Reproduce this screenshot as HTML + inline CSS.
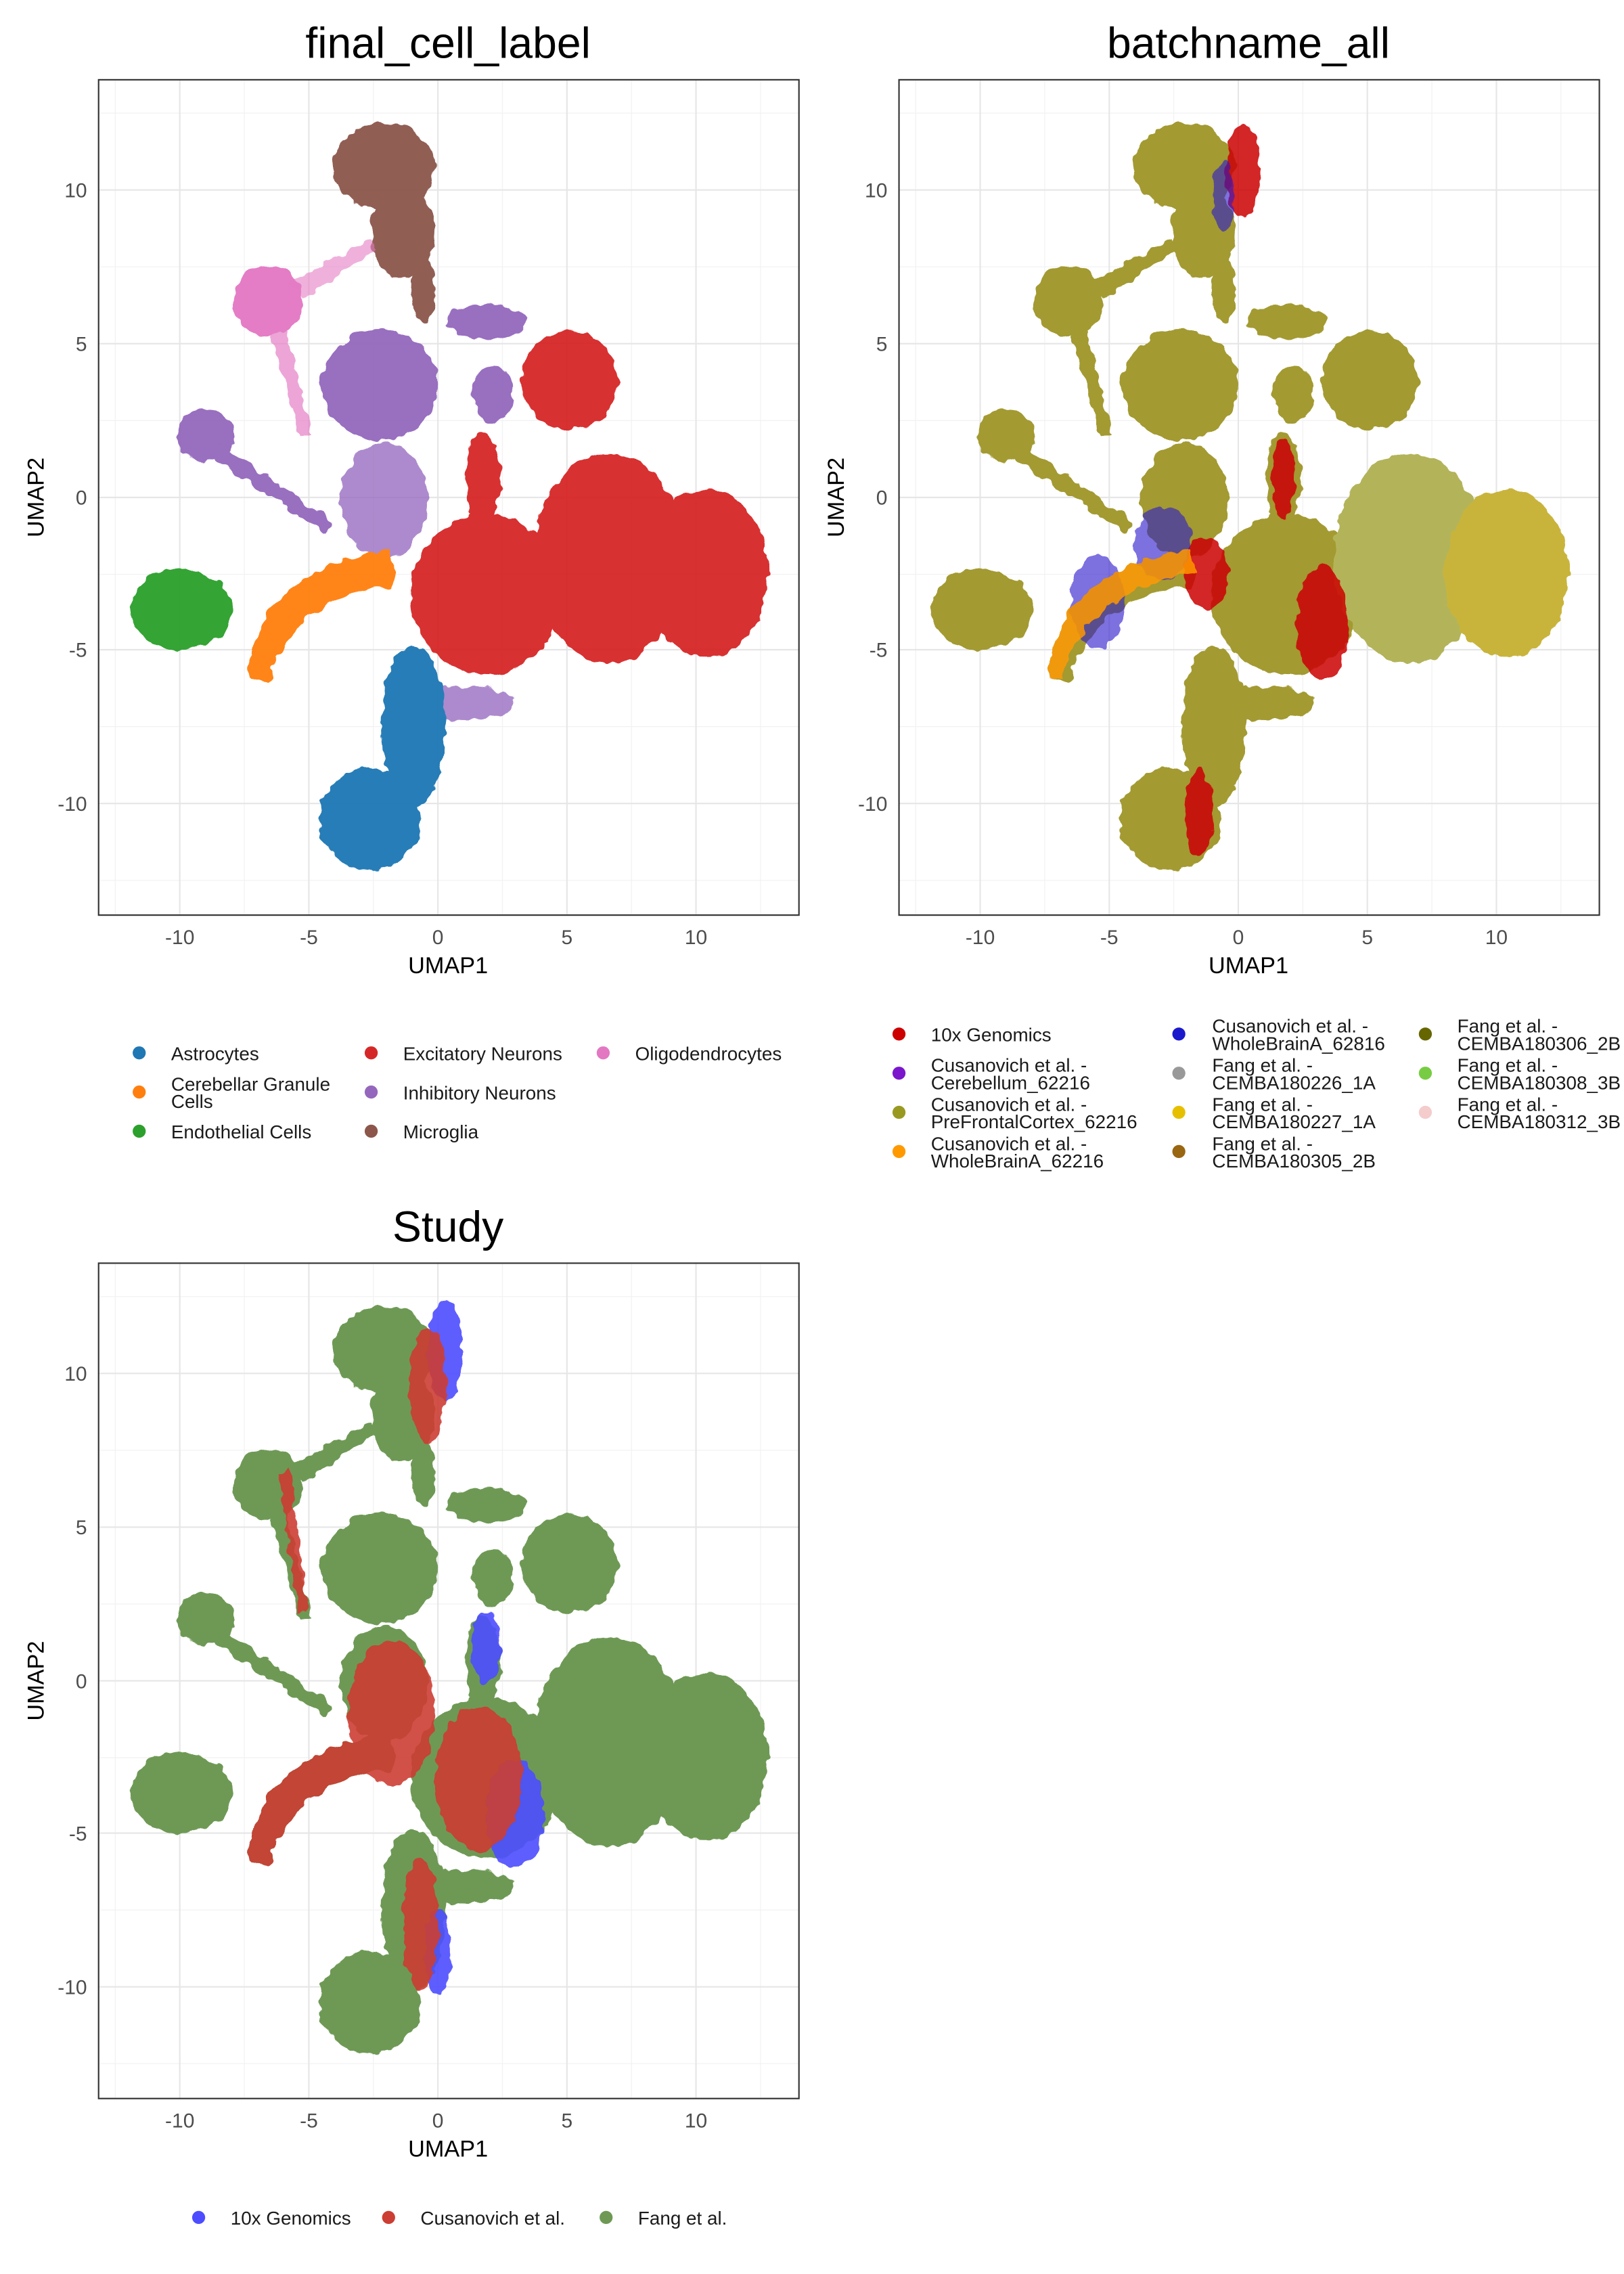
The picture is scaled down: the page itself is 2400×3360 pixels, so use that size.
<!DOCTYPE html>
<html><head><meta charset="utf-8"><style>html,body{margin:0;padding:0;background:#fff}svg{display:block}text{font-family:"Liberation Sans",sans-serif}</style></head>
<body>
<svg width="2400" height="3360" viewBox="0 0 1120 1568" xmlns="http://www.w3.org/2000/svg">
<defs>
<filter id="fz" x="-10%" y="-10%" width="120%" height="120%">
<feTurbulence type="fractalNoise" baseFrequency="0.12" numOctaves="2" seed="3" result="n"/>
<feDisplacementMap in="SourceGraphic" in2="n" scale="7" xChannelSelector="R" yChannelSelector="G"/>
</filter>
<g id="grid">
<rect x="68" y="55" width="483" height="576" fill="#fff"/>
<g stroke="#f2f2f2" stroke-width="0.6">
<line x1="79.5" y1="55" x2="79.5" y2="631"/><line x1="168.5" y1="55" x2="168.5" y2="631"/><line x1="257.5" y1="55" x2="257.5" y2="631"/><line x1="346.5" y1="55" x2="346.5" y2="631"/><line x1="435.5" y1="55" x2="435.5" y2="631"/><line x1="524.5" y1="55" x2="524.5" y2="631"/>
<line x1="68" y1="78" x2="551" y2="78"/><line x1="68" y1="184" x2="551" y2="184"/><line x1="68" y1="290" x2="551" y2="290"/><line x1="68" y1="396" x2="551" y2="396"/><line x1="68" y1="501" x2="551" y2="501"/><line x1="68" y1="607" x2="551" y2="607"/>
</g>
<g stroke="#e6e6e6" stroke-width="1">
<line x1="124" y1="55" x2="124" y2="631"/><line x1="213" y1="55" x2="213" y2="631"/><line x1="302" y1="55" x2="302" y2="631"/><line x1="391" y1="55" x2="391" y2="631"/><line x1="480" y1="55" x2="480" y2="631"/>
<line x1="68" y1="131" x2="551" y2="131"/><line x1="68" y1="237" x2="551" y2="237"/><line x1="68" y1="343" x2="551" y2="343"/><line x1="68" y1="448" x2="551" y2="448"/><line x1="68" y1="554" x2="551" y2="554"/>
</g>
<g font-size="14" fill="#4d4d4d" text-anchor="middle">
<text x="124" y="651">-10</text><text x="213" y="651">-5</text><text x="302" y="651">0</text><text x="391" y="651">5</text><text x="480" y="651">10</text>
</g>
<g font-size="14" fill="#4d4d4d" text-anchor="end">
<text x="60" y="136">10</text><text x="60" y="242">5</text><text x="60" y="348">0</text><text x="60" y="453">-5</text><text x="60" y="559">-10</text>
</g>
<text x="309" y="671" font-size="16" text-anchor="middle">UMAP1</text>
<text x="30" y="343" font-size="16" text-anchor="middle" transform="rotate(-90 30 343)">UMAP2</text>
</g>
<g id="shape">
<ellipse cx="265" cy="115" rx="35" ry="30"/>
<ellipse cx="278" cy="160" rx="22" ry="32"/>
<ellipse cx="292" cy="200" rx="8" ry="22"/>
<ellipse cx="185" cy="208" rx="24" ry="24"/>
<path d="M200 195 L255 165 L260 172 L210 205 Z"/>
<path d="M195 220 L215 300 L207 302 L185 225 Z"/>
<ellipse cx="262" cy="265" rx="40" ry="38"/>
<ellipse cx="142" cy="300" rx="20" ry="18"/>
<path d="M150 305 L230 360 L225 368 L145 315 Z"/>
<ellipse cx="340" cy="272" rx="14" ry="20"/>
<ellipse cx="335" cy="222" rx="28" ry="12"/>
<ellipse cx="265" cy="345" rx="30" ry="40"/>
<ellipse cx="393" cy="262" rx="33" ry="34"/>
<ellipse cx="420" cy="385" rx="52" ry="72"/>
<ellipse cx="487" cy="395" rx="43" ry="58"/>
<ellipse cx="335" cy="410" rx="52" ry="55"/>
<ellipse cx="333" cy="330" rx="12" ry="32"/>
<ellipse cx="255" cy="565" rx="35" ry="35"/>
<ellipse cx="285" cy="500" rx="22" ry="55"/>
<ellipse cx="320" cy="485" rx="35" ry="12"/>
<path d="M172 470 C170 420 210 385 270 380 L272 405 C230 405 195 430 185 472 Z"/>
<ellipse cx="125" cy="420" rx="35" ry="28"/>
</g>
</defs>

<!-- Panel 1 -->
<g>
<use href="#grid"/>
<g opacity="0.95" filter="url(#fz)">
<ellipse cx="265" cy="115" rx="35" ry="30" fill="#8c564b"/><ellipse cx="278" cy="160" rx="22" ry="32" fill="#8c564b"/><ellipse cx="292" cy="200" rx="8" ry="22" fill="#8c564b"/>
<ellipse cx="185" cy="208" rx="24" ry="24" fill="#e377c2"/><path d="M200 195 L255 165 L260 172 L210 205 Z" fill="#e377c2" opacity="0.6"/><path d="M195 220 L215 300 L207 302 L185 225 Z" fill="#e377c2" opacity="0.7"/>
<g fill="#9467bd"><ellipse cx="262" cy="265" rx="40" ry="38"/><ellipse cx="142" cy="300" rx="20" ry="18"/><path d="M150 305 L230 360 L225 368 L145 315 Z"/><ellipse cx="340" cy="272" rx="14" ry="20"/><ellipse cx="335" cy="222" rx="28" ry="12"/><ellipse cx="265" cy="345" rx="30" ry="40" opacity="0.8"/><ellipse cx="320" cy="485" rx="35" ry="12" opacity="0.8"/></g>
<g fill="#d62728"><ellipse cx="393" cy="262" rx="33" ry="34"/><ellipse cx="420" cy="385" rx="52" ry="72"/><ellipse cx="487" cy="395" rx="43" ry="58"/><ellipse cx="335" cy="410" rx="52" ry="55"/><ellipse cx="333" cy="330" rx="12" ry="32"/></g>
<g fill="#1f77b4"><ellipse cx="255" cy="565" rx="35" ry="35"/><ellipse cx="285" cy="500" rx="22" ry="55"/></g>
<path d="M172 470 C170 420 210 385 270 380 L272 405 C230 405 195 430 185 472 Z" fill="#ff7f0e"/>
<ellipse cx="125" cy="420" rx="35" ry="28" fill="#2ca02c"/>
</g>
<rect x="68" y="55" width="483" height="576" fill="none" stroke="#333" stroke-width="1"/>
<text x="309" y="40" font-size="30" text-anchor="middle">final_cell_label</text>
<g font-size="13" fill="#1a1a1a">
<circle cx="96" cy="726" r="4.5" fill="#1f77b4"/><text x="118" y="731">Astrocytes</text>
<circle cx="96" cy="753" r="4.5" fill="#ff7f0e"/><text x="118" y="752">Cerebellar Granule</text><text x="118" y="764">Cells</text>
<circle cx="96" cy="780" r="4.5" fill="#2ca02c"/><text x="118" y="785">Endothelial Cells</text>
<circle cx="256" cy="726" r="4.5" fill="#d62728"/><text x="278" y="731">Excitatory Neurons</text>
<circle cx="256" cy="753" r="4.5" fill="#9467bd"/><text x="278" y="758">Inhibitory Neurons</text>
<circle cx="256" cy="780" r="4.5" fill="#8c564b"/><text x="278" y="785">Microglia</text>
<circle cx="416" cy="726" r="4.5" fill="#e377c2"/><text x="438" y="731">Oligodendrocytes</text>
</g>
</g>

<!-- Panel 2 -->
<g transform="translate(552 0)">
<use href="#grid"/>
<g filter="url(#fz)">
<use href="#shape" fill="#a39a30"/>
<ellipse cx="420" cy="385" rx="52" ry="72" fill="#b3b45a"/>
<ellipse cx="487" cy="395" rx="43" ry="58" fill="#c9b43a"/>
<g fill="#cc0000" opacity="0.85">
<ellipse cx="305" cy="118" rx="12" ry="32"/><ellipse cx="360" cy="430" rx="18" ry="40"/><ellipse cx="333" cy="330" rx="8" ry="28"/><ellipse cx="275" cy="560" rx="10" ry="30"/><ellipse cx="280" cy="395" rx="15" ry="25"/>
</g>
<g fill="#2a1acc" opacity="0.6"><ellipse cx="292" cy="135" rx="7" ry="25"/><ellipse cx="205" cy="415" rx="18" ry="32"/><ellipse cx="250" cy="375" rx="20" ry="25"/></g>
<path d="M172 470 C170 420 210 385 270 380 L272 395 C230 400 190 425 180 470 Z" fill="#ff9900" opacity="0.85"/>
</g>
<rect x="68" y="55" width="483" height="576" fill="none" stroke="#333" stroke-width="1"/>
<text x="309" y="40" font-size="30" text-anchor="middle">batchname_all</text>
</g>
<g font-size="13" fill="#1a1a1a">
<circle cx="620" cy="713" r="4.5" fill="#cc0000"/><text x="642" y="718">10x Genomics</text>
<circle cx="620" cy="740" r="4.5" fill="#7b16cc"/><text x="642" y="739">Cusanovich et al. -</text><text x="642" y="751">Cerebellum_62216</text>
<circle cx="620" cy="767" r="4.5" fill="#999922"/><text x="642" y="766">Cusanovich et al. -</text><text x="642" y="778">PreFrontalCortex_62216</text>
<circle cx="620" cy="794" r="4.5" fill="#ff9900"/><text x="642" y="793">Cusanovich et al. -</text><text x="642" y="805">WholeBrainA_62216</text>
<circle cx="813" cy="713" r="4.5" fill="#1a1acc"/><text x="836" y="712">Cusanovich et al. -</text><text x="836" y="724">WholeBrainA_62816</text>
<circle cx="813" cy="740" r="4.5" fill="#999999"/><text x="836" y="739">Fang et al. -</text><text x="836" y="751">CEMBA180226_1A</text>
<circle cx="813" cy="767" r="4.5" fill="#e6c000"/><text x="836" y="766">Fang et al. -</text><text x="836" y="778">CEMBA180227_1A</text>
<circle cx="813" cy="794" r="4.5" fill="#996611"/><text x="836" y="793">Fang et al. -</text><text x="836" y="805">CEMBA180305_2B</text>
<circle cx="983" cy="713" r="4.5" fill="#666600"/><text x="1005" y="712">Fang et al. -</text><text x="1005" y="724">CEMBA180306_2B</text>
<circle cx="983" cy="740" r="4.5" fill="#77cc44"/><text x="1005" y="739">Fang et al. -</text><text x="1005" y="751">CEMBA180308_3B</text>
<circle cx="983" cy="767" r="4.5" fill="#f4cccc"/><text x="1005" y="766">Fang et al. -</text><text x="1005" y="778">CEMBA180312_3B</text>
</g>

<!-- Panel 3 -->
<g transform="translate(0 816)">
<use href="#grid"/>
<g filter="url(#fz)">
<use href="#shape" fill="#6e9955"/>
<g fill="#4d4dff" opacity="0.9">
<ellipse cx="307" cy="115" rx="12" ry="35"/><ellipse cx="355" cy="435" rx="20" ry="38"/><ellipse cx="335" cy="320" rx="10" ry="25"/><ellipse cx="302" cy="530" rx="9" ry="30"/>
</g>
<g fill="#cc3d33" opacity="0.9">
<ellipse cx="295" cy="140" rx="13" ry="40"/>
<path d="M172 470 C170 420 210 385 270 380 L272 405 C230 405 195 430 185 472 Z"/>
<ellipse cx="270" cy="365" rx="30" ry="50"/><ellipse cx="330" cy="410" rx="30" ry="50"/><ellipse cx="290" cy="510" rx="12" ry="45"/>
<path d="M200 195 L212 295 L206 296 L192 200 Z"/>
</g>
</g>
<rect x="68" y="55" width="483" height="576" fill="none" stroke="#333" stroke-width="1"/>
<text x="309" y="40" font-size="30" text-anchor="middle">Study</text>
</g>
<g font-size="13" fill="#1a1a1a">
<circle cx="137" cy="1529" r="4.5" fill="#4d4dff"/><text x="159" y="1534">10x Genomics</text>
<circle cx="268" cy="1529" r="4.5" fill="#cc3d33"/><text x="290" y="1534">Cusanovich et al.</text>
<circle cx="418" cy="1529" r="4.5" fill="#6e9955"/><text x="440" y="1534">Fang et al.</text>
</g>
</svg>
</body></html>
